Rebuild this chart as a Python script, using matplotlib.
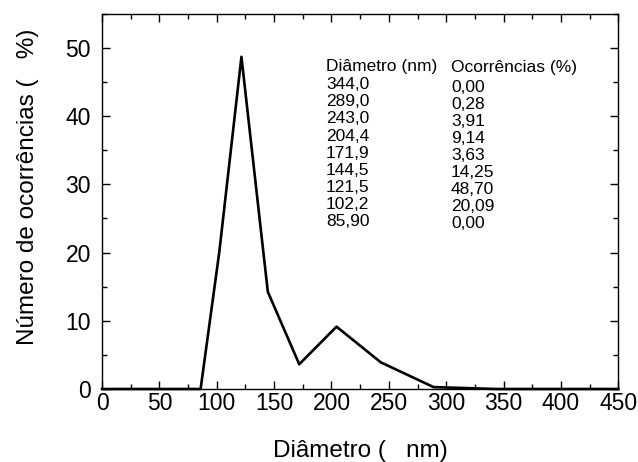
import matplotlib
matplotlib.use("Agg")
import matplotlib.pyplot as plt
from matplotlib.ticker import MultipleLocator

plt.rcParams['font.family'] = ['Liberation Sans', 'DejaVu Sans']

# table values (diameter in nm, occurrences in %)
diam_labels = ["344,0", "289,0", "243,0", "204,4", "171,9", "144,5", "121,5", "102,2", "85,90"]
occ_labels = ["0,00", "0,28", "3,91", "9,14", "3,63", "14,25", "48,70", "20,09", "0,00"]

# curve, including the zero baseline at both ends of the axis
diameter = [0, 85.9, 102.2, 121.5, 144.5, 171.9, 204.4, 243.0, 289.0, 344.0, 450]
occurrences = [0, 0.00, 20.09, 48.70, 14.25, 3.63, 9.14, 3.91, 0.28, 0.00, 0]

fig = plt.figure(figsize=(6.38, 4.62), dpi=100)
ax = fig.add_axes([0.160, 0.158, 0.809, 0.812])

ax.plot(diameter, occurrences, color='black', lw=1.9, clip_on=False, zorder=3)

ax.set_xlim(0, 450)
ax.set_ylim(0, 55)
ax.xaxis.set_major_locator(MultipleLocator(50))
ax.xaxis.set_minor_locator(MultipleLocator(25))
ax.yaxis.set_major_locator(MultipleLocator(10))
ax.yaxis.set_minor_locator(MultipleLocator(5))
ax.tick_params(which='both', direction='in', top=True, right=True, width=1)
ax.tick_params(which='major', length=6, labelsize=16.5)
ax.tick_params(axis='x', which='major', pad=2)
ax.tick_params(axis='y', which='major', pad=8)
ax.tick_params(which='minor', length=3.5)
for s in ax.spines.values():
    s.set_linewidth(1)

ax.set_xlabel("Diâmetro (   nm)", fontsize=17.5, va='top')
ax.set_ylabel("Número de ocorrências (   %)", fontsize=17.5)
ax.xaxis.set_label_coords(0.5, -0.136)
ax.yaxis.set_label_coords(-0.122, 0.539)

# inset table
fs = 12.5
ax.text(0.434, 0.859, "Diâmetro (nm)", transform=ax.transAxes, fontsize=fs, va='center')
ax.text(0.676, 0.856, "Ocorrências (%)", transform=ax.transAxes, fontsize=fs, va='center')
for i in range(len(diam_labels)):
    ax.text(0.434, 0.811 - 0.0456 * i, diam_labels[i], transform=ax.transAxes,
            fontsize=fs, va='center')
    ax.text(0.676, 0.803 - 0.0451 * i, occ_labels[i], transform=ax.transAxes,
            fontsize=fs, va='center')

fig.savefig("out.png", dpi=100)
